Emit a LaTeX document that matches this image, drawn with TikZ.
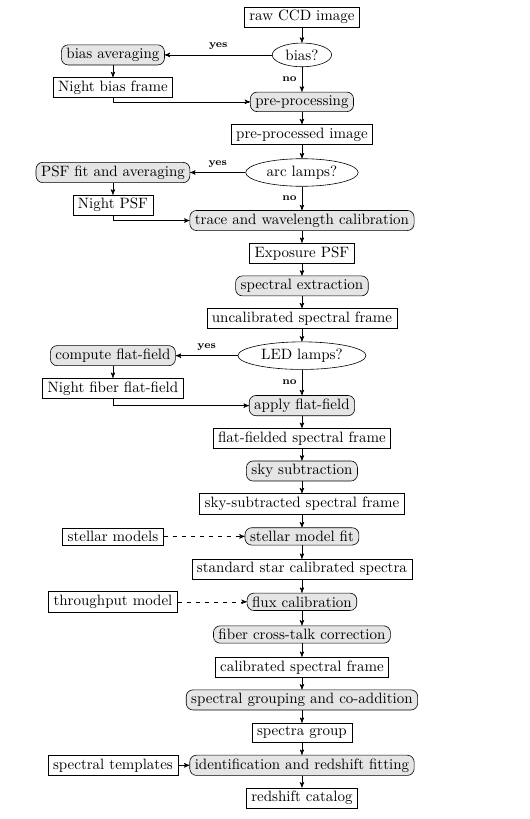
\documentclass[tikz,border=0pt]{standalone}
\usepackage{tikz}
\usetikzlibrary{arrows}
\usetikzlibrary{shapes.geometric}
\usetikzlibrary{positioning}
\tikzset{
    fnode/.style = {align=center, inner xsep=3.33pt, inner ysep=2.2pt, text centered},
    data_node/.style = {fnode, rectangle, draw=black, thin},
    proc_node/.style = {fnode, rectangle, rounded corners=4.5pt, draw=black, fill=gray!20, thin},
    test_node/.style = {fnode, ellipse, draw=black, inner xsep=3pt, inner ysep=2pt, thin},
    ans/.style = {font=\scriptsize\bfseries}
}

\begin{document}
\begin{tikzpicture}[>=stealth', node distance=21.8pt and 126pt, on grid]
    \useasboundingbox (-201.3pt,11.3pt) rectangle (151.4pt,-534.7pt);
    % main column
    \node [data_node] (raw) {raw CCD image};
    \node [test_node, below=25.3pt of raw] (bias) {bias?};
    \node [proc_node, below=31.3pt of bias] (preproc) {pre-processing};
    \node [data_node, below=of preproc] (preimg) {pre-processed image};
    \node [test_node, below=25.3pt of preimg] (arc) {arc lamps?};
    \node [proc_node, below=32pt of arc] (trace) {trace and wavelength calibration};
    \node [data_node, below=of trace] (exppsf) {Exposure PSF};
    \node [proc_node, below=of exppsf] (extract) {spectral extraction};
    \node [data_node, below=of extract] (uncal) {uncalibrated spectral frame};
    \node [test_node, below=24.7pt of uncal] (led) {LED lamps?};
    \node [proc_node, below=33.3pt of led] (applyff) {apply flat-field};
    \node [data_node, below=of applyff] (ffframe) {flat-fielded spectral frame};
    \node [proc_node, below=of ffframe] (skysub) {sky subtraction};
    \node [data_node, below=of skysub] (skyframe) {sky-subtracted spectral frame};
    \node [proc_node, below=of skyframe] (starfit) {stellar model fit};
    \node [data_node, below=of starfit] (stdstar) {standard star calibrated spectra};
    \node [proc_node, below=of stdstar] (fluxcal) {flux calibration};
    \node [proc_node, below=of fluxcal] (xtalk) {fiber cross-talk correction};
    \node [data_node, below=of xtalk] (calframe) {calibrated spectral frame};
    \node [proc_node, below=of calframe] (coadd) {spectral grouping and co-addition};
    \node [data_node, below=of coadd] (group) {spectra group};
    \node [proc_node, below=of group] (zfit) {identification and redshift fitting};
    \node [data_node, below=of zfit] (zcat) {redshift catalog};
    % calibration branches
    \node [proc_node, left=of bias] (biasavg) {bias averaging};
    \node [data_node, below=of biasavg] (nbias) {Night bias frame};
    \node [proc_node, left=of arc] (psffit) {PSF fit and averaging};
    \node [data_node, below=of psffit] (npsf) {Night PSF};
    \node [proc_node, left=of led] (compff) {compute flat-field};
    \node [data_node, below=of compff] (nfiber) {Night fiber flat-field};
    % external inputs
    \node [data_node, left=of starfit] (models) {stellar models};
    \node [data_node, left=of fluxcal] (thru) {throughput model};
    \node [data_node, left=of zfit] (templ) {spectral templates};

    \foreach \a/\b in {raw/bias, preproc/preimg, preimg/arc, trace/exppsf, exppsf/extract,
        extract/uncal, uncal/led, applyff/ffframe, ffframe/skysub, skysub/skyframe,
        skyframe/starfit, starfit/stdstar, stdstar/fluxcal, fluxcal/xtalk, xtalk/calframe,
        calframe/coadd, coadd/group, group/zfit, zfit/zcat}
        \draw [->] (\a) -- (\b);
    \foreach \q/\y/\n/\d in {bias/biasavg/preproc/nbias, arc/psffit/trace/npsf, led/compff/applyff/nfiber} {
        \draw [->] (\q) -- node [ans, above] {yes} (\y);
        \draw [->] (\q) -- node [ans, left] {no} (\n);
        \draw [->] (\y) -- (\d);
        \draw [->] (\d) |- (\n);
    }
    \draw [->, dashed] (models) -- (starfit);
    \draw [->, dashed] (thru) -- (fluxcal);
    \draw [->] (templ) -- (zfit);
\end{tikzpicture}
\end{document}
